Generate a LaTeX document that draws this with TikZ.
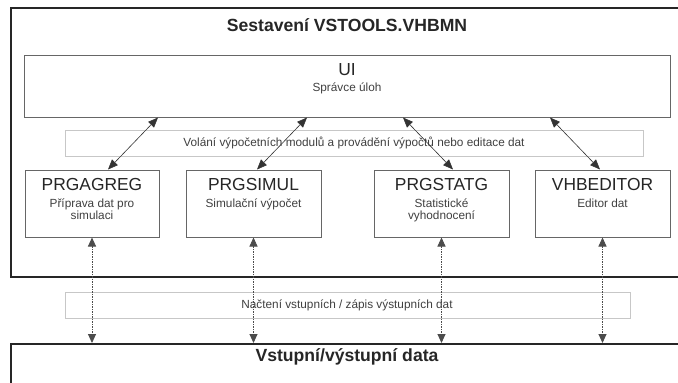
\documentclass[tikz,border=0pt]{standalone}
\usepackage{fontspec}
\setmainfont{Liberation Sans}
\usetikzlibrary{arrows.meta,calc}
\begin{document}
\begin{tikzpicture}[x=1pt,y=-1pt,
  outer/.style={draw=black!85,line width=2pt,rectangle,inner sep=0pt},
  box/.style={draw=black!60,line width=1pt,rectangle,inner sep=0pt,fill=white},
  band/.style={draw=black!22,line width=1pt,rectangle,inner sep=0pt,fill=white},
  bigbold/.style={font=\fontsize{17.6}{20}\selectfont\bfseries,text=black!85,inner sep=0pt},
  modtitle/.style={font=\fontsize{17.4}{20}\selectfont,text=black!85,inner sep=0pt},
  subtxt/.style={font=\fontsize{11.8}{12.5}\selectfont,text=black!75,inner sep=0pt,align=center},
  callarrow/.style={black!80,line width=0.6pt,{Triangle[length=10pt,width=8pt]}-{Triangle[length=10pt,width=8pt]}},
  dataarrow/.style={black!70,line width=0.9pt,dash pattern=on 1.5pt off 1pt,{Triangle[length=9pt,width=8pt]}-{Triangle[length=9pt,width=8pt]}}
]
\useasboundingbox (0,0) rectangle (678,383);
\fill[white] (0,0) rectangle (678,383);
\clip (0,0) rectangle (678,383);

% outer assembly box and data box
\node[outer,minimum width=680pt,minimum height=269pt] (asm) at (351,142.5) {};
\node[outer,minimum width=680pt,minimum height=80pt] (data) at (351,384) {};
\node[bigbold] (asmtitle) at (347,25) {Sestavení VSTOOLS.VHBMN};
\node[bigbold] (datatitle) at (347,357) {Vstupní/výstupní data};

% UI box
\node[box,minimum width=646pt,minimum height=62pt] (ui) at (347,86) {};
\node[modtitle] (uititle) at (347,70) {UI};
\node[subtxt] (uisub) at (347,88) {Správce úloh};

% bands
\node[band,minimum width=578pt,minimum height=26pt] (band1) at (354,143) {};
\node[subtxt] (band1txt) at (354,143) {Volání výpočetních modulů a provádění výpočtů nebo editace dat};
\node[band,minimum width=565pt,minimum height=26pt] (band2) at (347.5,305) {};
\node[subtxt] (band2txt) at (347,305) {Načtení vstupních / zápis výstupních dat};

% modules
\node[box,minimum width=134pt,minimum height=67pt] (agreg) at (92,203.5) {};
\node[box,minimum width=135pt,minimum height=67pt] (simul) at (253.5,203.5) {};
\node[box,minimum width=135pt,minimum height=67pt] (statg) at (441.5,203.5) {};
\node[box,minimum width=135pt,minimum height=67pt] (editor) at (602.5,203.5) {};

\node[modtitle] (agregt) at ([yshift=-15pt]agreg.north) {PRGAGREG};
\node[subtxt,anchor=north] (agregs) at ([yshift=-29pt]agreg.north) {Příprava dat pro\\simulaci};
\node[modtitle] (simult) at ([yshift=-15pt]simul.north) {PRGSIMUL};
\node[subtxt,anchor=north] (simuls) at ([yshift=-29pt]simul.north) {Simulační výpočet};
\node[modtitle] (statgt) at ([yshift=-15pt]statg.north) {PRGSTATG};
\node[subtxt,anchor=north] (statgs) at ([yshift=-29pt]statg.north) {Statistické\\vyhodnocení};
\node[modtitle] (editort) at ([yshift=-15pt]editor.north) {VHBEDITOR};
\node[subtxt,anchor=north] (editors) at ([yshift=-29pt]editor.north) {Editor dat};

% call arrows
\draw[callarrow] ([xshift=-189pt]ui.south) -- ([xshift=16pt]agreg.north);
\draw[callarrow] ([xshift=-40pt]ui.south) -- ([xshift=3.5pt]simul.north);
\draw[callarrow] ([xshift=56pt]ui.south) -- ([xshift=11.5pt]statg.north);
\draw[callarrow] ([xshift=203pt]ui.south) -- ([xshift=-2.5pt]editor.north);

% data arrows
\draw[dataarrow] (agreg.south) -- (agreg.south |- data.north);
\draw[dataarrow] (simul.south) -- (simul.south |- data.north);
\draw[dataarrow] (statg.south) -- (statg.south |- data.north);
\draw[dataarrow] (editor.south) -- (editor.south |- data.north);
\end{tikzpicture}
\end{document}
